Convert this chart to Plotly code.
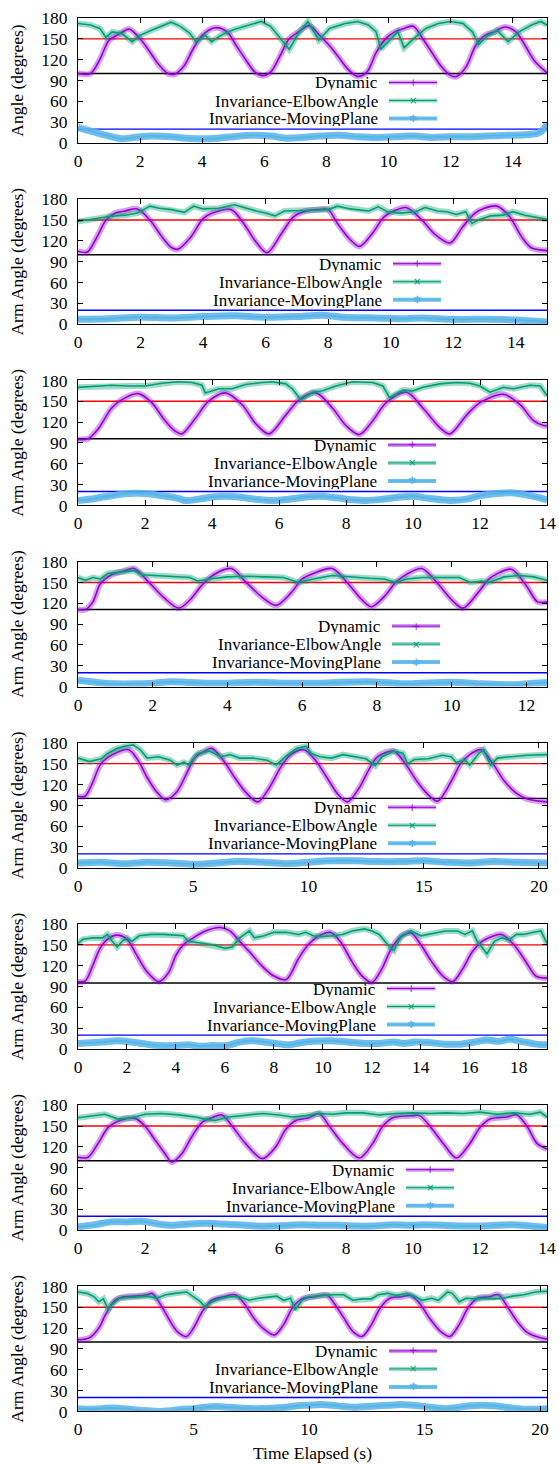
import plotly.graph_objects as go

# ---------------- data ----------------
SERIES_NAMES = ["Dynamic", "Invariance-ElbowAngle", "Invariance-MovingPlane"]
Y_TITLES = ["Angle (degrees)"] + ["Arm Angle (degrees)"] * 7
X_MAX = [15.1, 15.0, 14.0, 12.55, 20.35, 19.15, 14.0, 20.3]
X_DTICK = [2, 2, 2, 2, 5, 2, 2, 5]
Y_TICKS = [0, 30, 60, 90, 120, 150, 180]
UPPER_LEVEL = [150] * 8
MIN_LEVEL = [100, 100, 96, 111, 100, 95, 100, 100]
LOWER_LEVEL = [20] * 8

# Panel 1
DYN1_T = [0, 0.4, 0.7, 1.0, 1.3, 1.65, 2.0, 2.3, 2.6, 2.9, 3.1, 3.4, 3.7, 4.0, 4.4, 4.8, 5.1, 5.4, 5.7, 5.95, 6.2, 6.5, 6.8, 7.1, 7.45, 7.8, 8.1, 8.4, 8.7, 9.0, 9.3, 9.6, 9.9, 10.2, 10.5, 10.8, 11.1, 11.4, 11.7, 12.0, 12.2, 12.5, 12.8, 13.1, 13.4, 13.75, 14.1, 14.4, 14.7, 15.1]
DYN1_V = [100, 100, 120, 148, 156, 164, 150, 132, 113, 100, 99, 110, 135, 155, 166, 160, 140, 120, 102, 97, 102, 125, 150, 160, 169, 154, 140, 123, 106, 96, 102, 130, 150, 160, 165, 168, 150, 130, 110, 97, 96, 110, 140, 155, 160, 167, 160, 140, 118, 101]
ELB1_T = [0, 0.4, 0.7, 0.9, 1.1, 1.4, 1.75, 2.0, 2.4, 2.8, 3.0, 3.3, 3.6, 3.8, 4.1, 4.3, 4.6, 5.0, 5.5, 5.9, 6.2, 6.5, 6.8, 7.1, 7.4, 7.75, 8.1, 8.6, 9.0, 9.35, 9.6, 9.75, 10.1, 10.3, 10.5, 10.8, 11.2, 11.6, 12.0, 12.4, 12.7, 12.9, 13.2, 13.5, 13.85, 14.2, 14.6, 14.9, 15.1]
ELB1_V = [172, 170, 165, 152, 160, 158, 146, 155, 163, 170, 174, 168, 158, 146, 155, 146, 155, 163, 170, 175, 168, 152, 135, 158, 175, 148, 165, 172, 175, 170, 160, 135, 150, 160, 137, 150, 165, 172, 175, 172, 160, 142, 155, 162, 146, 160, 170, 175, 170]
MOV1_T = [0, 0.5, 1.0, 1.4, 1.8, 2.4, 3.0, 3.5, 4.0, 4.5, 5.0, 5.6, 6.2, 6.7, 7.2, 7.8, 8.4, 9.0, 9.6, 10.2, 10.8, 11.4, 12.0, 12.6, 13.2, 13.8, 14.4, 14.8, 15.0, 15.1]
MOV1_V = [22, 16, 10, 6, 8, 10, 9, 7, 6, 7, 9, 11, 10, 7, 8, 10, 11, 9, 8, 9, 10, 8, 9, 9, 10, 11, 12, 14, 20, 28]

# Panel 2
DYN2_T = [0, 0.3, 0.6, 0.9, 1.2, 1.5, 1.9, 2.3, 2.7, 3.0, 3.2, 3.6, 4.0, 4.3, 4.9, 5.3, 5.7, 6.05, 6.5, 6.9, 7.3, 7.7, 8.0, 8.3, 8.7, 9.0, 9.4, 9.8, 10.1, 10.5, 11.0, 11.4, 11.9, 12.3, 12.7, 13.0, 13.4, 13.8, 14.2, 14.5, 15.0]
DYN2_V = [105, 104, 125, 150, 160, 163, 166, 150, 125, 110, 108, 125, 152, 160, 165, 145, 118, 103, 130, 155, 163, 165, 165, 145, 122, 112, 130, 155, 163, 168, 150, 130, 117, 140, 160, 167, 170, 155, 125, 110, 106]
ELB2_T = [0, 0.5, 1.0, 1.5, 1.9, 2.1, 2.3, 2.6, 3.0, 3.4, 3.7, 4.0, 4.5, 5.0, 5.3, 5.7, 6.0, 6.3, 6.6, 7.0, 7.5, 8.0, 8.3, 8.7, 9.0, 9.3, 9.6, 9.9, 10.3, 10.8, 11.1, 11.5, 11.8, 12.1, 12.4, 12.6, 12.8, 13.2, 13.6, 13.9, 14.3, 14.7, 15.0]
ELB2_V = [148, 152, 155, 157, 160, 165, 170, 167, 165, 161, 170, 166, 167, 172, 168, 163, 160, 156, 163, 163, 164, 165, 170, 166, 165, 163, 169, 162, 160, 162, 168, 163, 162, 158, 162, 145, 150, 156, 157, 162, 157, 153, 151]
MOV2_T = [0, 1, 2, 3, 4, 5, 6, 7, 7.8, 8.5, 9.5, 10.5, 11, 12, 13, 14, 15]
MOV2_V = [7, 8, 10, 9, 11, 12, 10, 11, 13, 10, 9, 8, 9, 7, 7, 6, 3]

# Panel 3
DYN3_T = [0, 0.3, 0.6, 1.0, 1.3, 1.8, 2.2, 2.6, 2.9, 3.1, 3.5, 3.9, 4.4, 4.9, 5.3, 5.7, 6.2, 6.6, 7.1, 7.6, 8.0, 8.4, 8.8, 9.2, 9.8, 10.3, 10.8, 11.1, 11.6, 12.0, 12.7, 13.2, 13.6, 13.9, 14.0]
DYN3_V = [95, 96, 110, 140, 152, 161, 148, 122, 107, 103, 125, 150, 162, 145, 118, 103, 130, 152, 162, 140, 115, 102, 122, 148, 163, 140, 112, 103, 130, 148, 160, 145, 122, 115, 115]
ELB3_T = [0, 0.5, 1.0, 1.5, 2.0, 2.5, 3.0, 3.4, 3.7, 3.8, 4.2, 4.6, 5.0, 5.5, 5.8, 6.2, 6.4, 6.65, 7.0, 7.3, 7.7, 8.2, 8.8, 9.1, 9.3, 9.7, 10.0, 10.3, 10.8, 11.3, 11.7, 12.0, 12.3, 12.7, 13.0, 13.5, 13.8, 14.0]
ELB3_V = [170, 171, 173, 172, 172, 176, 178, 177, 173, 162, 168, 168, 174, 177, 178, 175, 168, 152, 163, 165, 172, 178, 177, 172, 155, 166, 165, 170, 175, 177, 176, 172, 163, 170, 168, 173, 172, 158]
MOV3_T = [0, 0.5, 1.0, 1.5, 2.0, 2.5, 3.0, 3.2, 3.6, 4.0, 4.4, 4.8, 5.3, 5.8, 6.3, 6.8, 7.2, 7.7, 8.2, 8.6, 9.1, 9.6, 10.0, 10.5, 11.1, 11.6, 12.0, 12.5, 13.0, 13.5, 14.0]
MOV3_V = [7, 10, 14, 17, 17, 14, 10, 7, 9, 12, 13, 12, 9, 7, 9, 12, 13, 11, 8, 7, 9, 12, 13, 10, 7, 9, 14, 17, 18, 14, 8]

# Panel 4
DYN4_T = [0, 0.2, 0.4, 0.6, 0.9, 1.2, 1.5, 1.9, 2.3, 2.7, 3.0, 3.3, 3.6, 4.1, 4.5, 4.9, 5.3, 5.7, 6.0, 6.3, 6.8, 7.2, 7.6, 7.85, 8.2, 8.5, 8.8, 9.2, 9.6, 10.0, 10.3, 10.7, 11.0, 11.2, 11.6, 12.0, 12.3, 12.55]
DYN4_V = [111, 111, 122, 148, 161, 166, 170, 150, 128, 113, 125, 145, 160, 170, 150, 130, 117, 135, 155, 163, 170, 150, 125, 115, 130, 150, 162, 170, 150, 125, 113, 135, 155, 162, 169, 145, 122, 122]
ELB4_T = [0, 0.2, 0.4, 0.6, 0.8, 1.2, 1.5, 1.7, 2.0, 2.5, 3.0, 3.2, 3.5, 4.0, 4.5, 5.0, 5.5, 5.9, 6.3, 6.8, 7.2, 7.8, 8.2, 8.5, 8.8, 9.2, 9.7, 10.2, 10.5, 10.8, 11.0, 11.4, 11.8, 12.2, 12.55]
ELB4_V = [157, 153, 157, 155, 163, 165, 167, 161, 160, 158, 157, 152, 155, 158, 159, 158, 157, 150, 155, 160, 158, 156, 155, 150, 155, 157, 157, 157, 150, 152, 150, 158, 160, 158, 153]
MOV4_T = [0, 0.5, 1.0, 1.5, 2.0, 2.5, 3.0, 3.5, 4.0, 4.5, 5.0, 5.5, 6.0, 6.5, 7.0, 7.7, 8.2, 8.7, 9.2, 9.7, 10.2, 10.8, 11.3, 11.8, 12.2, 12.55]
MOV4_V = [9, 6, 4, 4, 5, 7, 6, 5, 5, 6, 6, 5, 5, 5, 6, 7, 6, 4, 5, 6, 6, 4, 3, 3, 5, 6]

# Panel 5
DYN5_T = [0, 0.3, 0.6, 1.0, 1.5, 2.2, 2.6, 3.0, 3.4, 3.8, 4.3, 4.7, 5.1, 5.4, 5.8, 6.3, 6.8, 7.3, 7.8, 8.3, 8.8, 9.2, 9.8, 10.3, 10.8, 11.3, 11.7, 12.2, 12.6, 13.0, 13.7, 14.2, 14.7, 15.2, 15.6, 16.2, 16.6, 17.0, 17.5, 18.0, 18.5, 19.0, 19.5, 20.35]
DYN5_V = [103, 103, 120, 150, 163, 170, 155, 130, 110, 98, 110, 135, 160, 166, 172, 155, 130, 108, 95, 115, 145, 162, 170, 155, 130, 105, 95, 115, 140, 160, 168, 150, 125, 105, 96, 125, 150, 163, 170, 150, 125, 108, 99, 95]
ELB5_T = [0, 0.5, 1.0, 1.3, 1.7, 2.0, 2.4, 2.7, 3.0, 3.5, 4.0, 4.3, 4.6, 4.8, 5.2, 5.7, 6.2, 6.6, 7.0, 7.6, 8.2, 8.6, 9.0, 9.5, 9.9, 10.1, 10.5, 11.0, 11.5, 12.0, 12.5, 12.9, 13.2, 13.7, 14.1, 14.3, 14.6, 15.2, 15.8, 16.2, 16.4, 16.8, 17.0, 17.4, 17.6, 17.9, 18.2, 18.8, 19.5, 20.35]
ELB5_V = [158, 153, 157, 165, 172, 175, 177, 170, 158, 160, 155, 148, 152, 148, 165, 168, 160, 163, 158, 158, 155, 148, 160, 172, 175, 165, 160, 158, 163, 160, 157, 147, 160, 168, 165, 150, 156, 157, 162, 160, 152, 155, 148, 165, 170, 148, 158, 160, 162, 163]
MOV5_T = [0, 1, 2, 3, 4, 5, 6, 7, 8, 9, 10, 11, 12, 13, 14, 15, 16, 17, 18, 19, 20.35]
MOV5_V = [7, 8, 6, 8, 7, 5, 7, 9, 8, 6, 8, 10, 10, 9, 9, 10, 8, 7, 9, 8, 7]

# Panel 6
DYN6_T = [0, 0.3, 0.6, 0.9, 1.2, 1.6, 2.0, 2.4, 2.8, 3.3, 3.7, 4.0, 4.3, 4.7, 5.2, 5.8, 6.2, 6.6, 7.0, 7.5, 8.0, 8.5, 9.0, 9.4, 9.8, 10.3, 10.7, 11.2, 11.6, 12.0, 12.4, 12.8, 13.2, 13.6, 14.0, 14.4, 14.9, 15.3, 15.7, 16.1, 16.5, 16.9, 17.3, 17.8, 18.3, 18.7, 19.15]
DYN6_V = [97, 98, 120, 145, 158, 164, 158, 135, 112, 97, 110, 135, 150, 160, 170, 175, 170, 155, 140, 120, 105, 100, 130, 150, 162, 168, 155, 125, 105, 96, 115, 145, 162, 167, 150, 128, 105, 97, 115, 140, 155, 162, 165, 150, 125, 105, 102]
ELB6_T = [0, 0.2, 0.6, 1.0, 1.2, 1.4, 1.6, 1.8, 2.0, 2.2, 2.5, 3.0, 3.5, 4.0, 4.3, 4.5, 5.0, 5.5, 6.0, 6.3, 6.6, 7.0, 7.2, 7.6, 8.0, 8.5, 9.0, 9.3, 9.6, 10.0, 10.4, 10.8, 11.2, 11.7, 12.0, 12.3, 12.7, 12.9, 13.2, 13.6, 14.0, 14.5, 15.0, 15.5, 15.8, 16.1, 16.3, 16.7, 17.0, 17.3, 17.6, 17.9, 18.2, 18.6, 18.9, 19.15]
ELB6_V = [152, 158, 160, 160, 165, 155, 147, 155, 160, 155, 163, 165, 165, 164, 163, 155, 152, 150, 145, 147, 160, 170, 160, 163, 168, 168, 165, 168, 163, 162, 163, 165, 170, 173, 170, 165, 148, 142, 163, 170, 163, 167, 170, 170, 165, 170, 155, 137, 155, 160, 157, 165, 165, 168, 170, 152]
MOV6_T = [0, 0.5, 1.0, 1.6, 2.2, 2.8, 3.3, 4.0, 4.5, 5.0, 5.5, 6.1, 6.6, 7.1, 7.6, 8.3, 8.6, 9.1, 9.6, 10.3, 11.0, 11.7, 12.3, 12.9, 13.3, 13.8, 14.4, 15.0, 15.6, 16.2, 16.7, 17.2, 17.6, 18.1, 18.7, 19.15]
MOV6_V = [8, 9, 10, 12, 10, 7, 5, 5, 6, 4, 5, 5, 10, 12, 10, 7, 6, 9, 11, 12, 10, 8, 8, 10, 8, 10, 9, 7, 7, 10, 13, 11, 14, 11, 7, 6]

# Panel 7
DYN7_T = [0, 0.3, 0.6, 0.9, 1.2, 1.7, 2.0, 2.3, 2.6, 2.8, 3.1, 3.4, 3.7, 4.0, 4.3, 4.6, 5.0, 5.5, 5.9, 6.2, 6.5, 6.9, 7.2, 7.5, 7.9, 8.4, 8.8, 9.1, 9.4, 10.0, 10.2, 10.5, 10.9, 11.3, 11.7, 12.0, 12.3, 12.8, 13.1, 13.4, 13.7, 14.0]
DYN7_V = [105, 105, 125, 148, 157, 161, 150, 130, 110, 98, 110, 135, 155, 162, 166, 150, 125, 103, 120, 145, 158, 162, 168, 150, 125, 104, 125, 150, 162, 165, 165, 150, 125, 104, 125, 148, 160, 163, 166, 150, 125, 117]
ELB7_T = [0, 0.4, 0.8, 1.2, 1.6, 2.0, 2.5, 3.0, 3.5, 3.8, 4.1, 4.5, 5.0, 5.5, 6.0, 6.4, 6.8, 7.2, 7.6, 8.0, 8.5, 9.0, 9.5, 10.0, 10.5, 11.0, 11.5, 12.0, 12.5, 13.0, 13.5, 13.8, 14.0]
ELB7_V = [162, 165, 167, 160, 162, 167, 168, 166, 163, 160, 158, 163, 166, 168, 166, 163, 165, 168, 167, 169, 169, 166, 168, 169, 168, 169, 168, 170, 167, 169, 167, 170, 163]
MOV7_T = [0, 0.5, 1.0, 1.5, 1.9, 2.4, 2.8, 3.3, 3.8, 4.3, 4.8, 5.3, 5.8, 6.3, 6.7, 7.3, 7.8, 8.3, 8.8, 9.4, 9.9, 10.4, 10.9, 11.5, 12.0, 12.5, 13.0, 13.5, 14.0]
MOV7_V = [5, 8, 12, 12, 13, 9, 7, 9, 10, 9, 8, 6, 6, 7, 8, 7, 7, 6, 6, 8, 7, 8, 7, 6, 6, 7, 8, 6, 4]

# Panel 8
DYN8_T = [0, 0.5, 0.9, 1.2, 1.6, 2.0, 2.5, 3.0, 3.2, 3.5, 3.9, 4.3, 4.7, 5.0, 5.4, 5.8, 6.3, 6.8, 7.2, 7.6, 8.0, 8.5, 8.9, 9.3, 9.7, 10.2, 10.8, 11.1, 11.5, 11.9, 12.3, 12.7, 13.1, 13.5, 14.0, 14.4, 14.8, 15.2, 15.7, 16.1, 16.5, 16.9, 17.3, 17.8, 18.2, 18.6, 19.0, 19.4, 19.9, 20.3]
DYN8_V = [103, 106, 120, 140, 160, 165, 166, 168, 170, 158, 135, 115, 108, 120, 145, 160, 165, 168, 155, 135, 120, 110, 125, 150, 162, 165, 167, 155, 135, 115, 108, 125, 150, 163, 165, 167, 155, 135, 115, 108, 125, 150, 163, 165, 168, 150, 130, 115, 107, 104]
ELB8_T = [0, 0.4, 0.7, 0.9, 1.1, 1.3, 1.5, 1.8, 2.2, 2.6, 3.0, 3.4, 3.8, 4.2, 4.7, 5.0, 5.3, 5.5, 5.8, 6.2, 6.6, 7.0, 7.4, 7.8, 8.2, 8.6, 8.9, 9.2, 9.4, 9.7, 10.0, 10.5, 11.0, 11.5, 11.9, 12.3, 12.7, 13.0, 13.4, 13.8, 14.2, 14.6, 14.9, 15.3, 15.6, 16.0, 16.2, 16.5, 16.8, 17.2, 17.6, 18.0, 18.4, 18.8, 19.3, 19.8, 20.3]
ELB8_V = [172, 170, 165, 158, 162, 147, 155, 163, 164, 165, 166, 163, 168, 170, 172, 165, 158, 150, 158, 163, 165, 165, 160, 163, 165, 166, 160, 163, 146, 160, 165, 167, 168, 168, 160, 162, 162, 168, 170, 167, 170, 165, 160, 163, 160, 172, 170, 158, 163, 162, 163, 162, 163, 166, 168, 172, 173]
MOV8_T = [0, 0.5, 1.0, 1.5, 2.0, 2.5, 3.0, 3.5, 4.0, 4.5, 5.0, 5.5, 6.0, 6.5, 7.0, 7.5, 8.0, 8.5, 9.0, 9.5, 10.0, 10.5, 11.0, 11.5, 12.0, 12.5, 13.0, 13.5, 14.0, 14.5, 15.0, 15.5, 16.0, 16.5, 17.0, 17.5, 18.0, 18.5, 19.0, 19.5, 20.3]
MOV8_V = [4, 3, 4, 5, 4, 2, 1, 0, 1, 3, 4, 6, 7, 6, 5, 4, 4, 5, 6, 8, 9, 10, 9, 7, 6, 7, 8, 9, 10, 9, 7, 5, 4, 6, 8, 9, 8, 6, 4, 3, 4]

PANELS = [
    [(DYN1_T, DYN1_V), (ELB1_T, ELB1_V), (MOV1_T, MOV1_V)],
    [(DYN2_T, DYN2_V), (ELB2_T, ELB2_V), (MOV2_T, MOV2_V)],
    [(DYN3_T, DYN3_V), (ELB3_T, ELB3_V), (MOV3_T, MOV3_V)],
    [(DYN4_T, DYN4_V), (ELB4_T, ELB4_V), (MOV4_T, MOV4_V)],
    [(DYN5_T, DYN5_V), (ELB5_T, ELB5_V), (MOV5_T, MOV5_V)],
    [(DYN6_T, DYN6_V), (ELB6_T, ELB6_V), (MOV6_T, MOV6_V)],
    [(DYN7_T, DYN7_V), (ELB7_T, ELB7_V), (MOV7_T, MOV7_V)],
    [(DYN8_T, DYN8_V), (ELB8_T, ELB8_V), (MOV8_T, MOV8_V)],
]

# ---------------- styling / layout ----------------
W, H = 559, 1465
LEFT_PX, RIGHT_PX = 78, 547
TOP0_PX, PANEL_H, STEP = 18, 125, 181.2
LEGEND_RIGHT_PX = [379, 383, 378, 382, 378, 377, 396, 379]
LEGEND_ROW_OFF = [64.5, 82.5, 100.5]

COLORS = ["148,0,211", "0,158,115", "86,180,233"]
HALO_W = [6, 6, 7]
HALO_A = [0.38, 0.38, 0.85]
CORE_W = [1.6, 1.6, 2.0]
SHAPES = ["spline", "linear", "spline"]
GLYPHS = ["+", "×", "✱"]

FONT = dict(family="Liberation Serif, Times New Roman, serif", size=17.5, color="black")
KEY_FONT = dict(family="Liberation Serif, Times New Roman, serif", size=17, color="black")

fig = go.Figure()
shapes = []
annotations = []
layout = dict(
    width=W, height=H, margin=dict(l=0, r=0, t=0, b=0),
    paper_bgcolor="white", plot_bgcolor="white", showlegend=False,
    font=FONT, template="none",
)

for k, series in enumerate(PANELS):
    top = TOP0_PX + STEP * k
    bot = top + PANEL_H
    xs = "" if k == 0 else str(k + 1)
    xref, yref = "x" + xs, "y" + xs
    for i, (t, v) in enumerate(series):
        fig.add_trace(go.Scatter(
            x=t, y=v, mode="lines", xaxis=xref, yaxis=yref, hoverinfo="skip",
            line=dict(color=f"rgba({COLORS[i]},{HALO_A[i]})", width=HALO_W[i],
                      shape=SHAPES[i], smoothing=0.9)))
        fig.add_trace(go.Scatter(
            x=t, y=v, mode="lines", xaxis=xref, yaxis=yref, name=SERIES_NAMES[i],
            line=dict(color=f"rgb({COLORS[i]})", width=CORE_W[i],
                      shape=SHAPES[i], smoothing=0.9)))

    axis_common = dict(
        ticks="inside", ticklen=5, tickwidth=1, tickcolor="black",
        showline=True, linecolor="black", linewidth=1, mirror="allticks",
        showgrid=False, zeroline=False, tickfont=FONT, automargin=False,
    )
    layout["xaxis" + xs] = dict(
        axis_common, domain=[LEFT_PX / W, RIGHT_PX / W], anchor=yref,
        range=[0, X_MAX[k]], tick0=0, dtick=X_DTICK[k], ticklabelstandoff=2,
        **({"title": dict(text="Time Elapsed (s)", font=FONT, standoff=8)} if k == 7 else {}),
    )
    layout["yaxis" + xs] = dict(
        axis_common, domain=[1 - bot / H, 1 - top / H], anchor=xref,
        range=[0, 180], tickvals=Y_TICKS, ticklabelstandoff=6,
        title=dict(text=Y_TITLES[k], font=FONT, standoff=13),
    )
    for lvl, col in ((UPPER_LEVEL[k], "#ff0000"), (MIN_LEVEL[k], "#000000"), (LOWER_LEVEL[k], "#0000ff")):
        shapes.append(dict(type="line", xref=xref + " domain", yref=yref, x0=0, x1=1,
                           y0=lvl, y1=lvl, line=dict(color=col, width=1.4), layer="below"))

    # key (gnuplot style: text right-aligned, sample to the right)
    rx = LEGEND_RIGHT_PX[k]
    for i, name in enumerate(SERIES_NAMES):
        yy = 1 - (top + LEGEND_ROW_OFF[i]) / H
        annotations.append(dict(text=name, x=rx / W, y=yy, xref="paper", yref="paper",
                                xanchor="right", yanchor="middle", showarrow=False,
                                font=KEY_FONT, borderpad=0, height=16, valign="middle"))
        x0, x1 = (rx + 10) / W, (rx + 58) / W
        shapes.append(dict(type="line", xref="paper", yref="paper", x0=x0, x1=x1, y0=yy, y1=yy,
                           line=dict(color=f"rgba({COLORS[i]},{HALO_A[i]})", width=4)))
        shapes.append(dict(type="line", xref="paper", yref="paper", x0=x0, x1=x1, y0=yy, y1=yy,
                           line=dict(color=f"rgb({COLORS[i]})", width=1)))
        annotations.append(dict(text=GLYPHS[i], x=(x0 + x1) / 2, y=yy, xref="paper", yref="paper",
                                xanchor="center", yanchor="middle", showarrow=False,
                                font=dict(family="DejaVu Sans", size=10, color=f"rgb({COLORS[i]})")))

layout["shapes"] = shapes
layout["annotations"] = annotations
fig.update_layout(**layout)
fig.write_html(
    "out.html",
    config={"displayModeBar": False},
    post_script="document.body.style.margin='0';document.body.style.padding='0';"
                "document.body.style.overflow='hidden';",
)
